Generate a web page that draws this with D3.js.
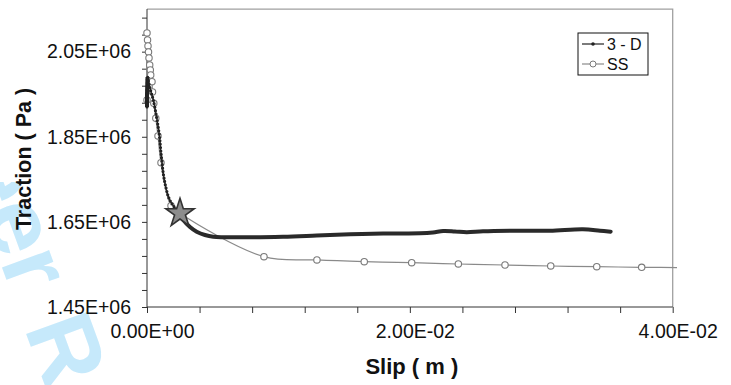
<!DOCTYPE html>
<html>
<head>
<meta charset="utf-8">
<title>Traction vs Slip</title>
<script src="https://cdn.jsdelivr.net/npm/d3@7/dist/d3.min.js"></script>
<style>
    body { margin: 0; background: #fff; }
    svg { display: block; font-family: "Liberation Sans", Arial, sans-serif; }
    .axis path, .axis line { stroke: #333; }
    .axis text { font-size: 19.5px; fill: #111; }
    .title { font-weight: bold; fill: #111; }
</style>
</head>
<body>
<script>
    // slip (m) and traction (Pa)
    var ssSlip = [0, 0, 0.00004, 0.000076, 0.000114, 0.000152, 0.000205, 0.000251, 0.000282,
        0.00038, 0.000419, 0.000517, 0.00067, 0.000837, 0.001065, 0.001826, 0.00251,
        0.0089, 0.01293, 0.01653, 0.02014, 0.02369, 0.02724, 0.03072, 0.03422, 0.03764, 0.04117];
    var ssTraction = [1.9365e6, 2.0939e6, 2.0775e6, 2.0634e6, 2.0493e6, 2.0352e6, 2.0187e6, 2.0070e6, 1.9952e6,
        1.9795e6, 1.9553e6, 1.9287e6, 1.8935e6, 1.8519e6, 1.7891e6, 1.6881e6, 1.6702e6,
        1.5682e6, 1.5605e6, 1.5565e6, 1.5541e6, 1.5511e6, 1.5487e6, 1.5464e6, 1.5447e6, 1.5433e6, 1.5424e6];

    var d3Slip = [0, 0, 0.000023, 0.000038, 0.000152, 0.000304, 0.000479, 0.000738, 0.000936,
        0.001065, 0.001256, 0.001446, 0.001636, 0.001902, 0.00226, 0.00276, 0.00327, 0.00378,
        0.00441, 0.00504, 0.00708, 0.01035, 0.01291, 0.01545, 0.01796, 0.02077, 0.02176,
        0.02254, 0.02343, 0.02433, 0.02557, 0.02813, 0.03066, 0.03317, 0.03447, 0.03528];
    var d3Traction = [1.9201e6, 1.9482e6, 1.9764e6, 1.9905e6, 1.9741e6, 1.9553e6, 1.9365e6, 1.8942e6, 1.8542e6,
        1.8119e6, 1.7602e6, 1.7297e6, 1.7085e6, 1.6921e6, 1.6780e6, 1.6545e6, 1.6380e6, 1.6270e6,
        1.6192e6, 1.6152e6, 1.6138e6, 1.6152e6, 1.6180e6, 1.6209e6, 1.6227e6, 1.6232e6, 1.6251e6,
        1.6285e6, 1.6274e6, 1.6256e6, 1.6279e6, 1.6293e6, 1.6293e6, 1.6326e6, 1.6293e6, 1.6270e6];

    var starPoint = [0.00251, 1.6702e6];

    var seriesNames = ["3 - D", "SS"];
    var xLabelValues = [0, 0.02, 0.04];
    var yLabelValues = [1.45e6, 1.65e6, 1.85e6, 2.05e6];

    var width = 731, height = 385,
        x = d3.scaleLinear().domain([0, 0.04]).range([147, 672.7]),
        y = d3.scaleLinear().domain([1.45e6, 2.15e6]).range([307, 9.1]);

    var ss = ssSlip.map(function(s, i){ return {x: s, y: ssTraction[i]}; });
    var three = d3Slip.map(function(s, i){ return {x: s, y: d3Traction[i]}; });

    var svg = d3.select("body").append("svg")
        .attr("width", width)
        .attr("height", height);

    var defs = svg.append("defs");

    renderWatermark(svg);
    renderFrame(svg);
    renderAxes(svg);
    renderSeries(svg);
    renderStar(svg);
    renderLegend(svg);

    function sci(v){
        // 2.05e+6 -> 2.05E+06
        var s = d3.format(".2e")(v).toUpperCase();
        return s.replace(/E([+-])(\d)$/, "E$10$2");
    }

    function renderWatermark(svg){
        // only the lower left corner of the page stamp shows through
        defs.append("clipPath")
            .attr("id", "wmclip")
            .append("rect")
            .attr("x", 0).attr("y", 182)
            .attr("width", 130).attr("height", height - 182);

        var g = svg.append("g")
            .attr("clip-path", "url(#wmclip)")
          .append("g")
            .attr("transform", "translate(24,328) rotate(70)")
            .style("font-size", "95px")
            .style("font-weight", "bold")
            .attr("fill", "#c6e9fb");
        g.append("text").attr("x", 0).text("Review");
        g.append("text").attr("x", -34).attr("text-anchor", "end").text("For Peer");
    }

    function renderFrame(svg){
        svg.append("path")
            .attr("d", "M" + x(0) + "," + y(2.15e6) + "H" + x(0.04) + "V" + y(1.45e6))
            .attr("fill", "none")
            .attr("stroke", "#a0a0a0")
            .attr("stroke-width", 1.3);
    }

    function renderAxes(svg){
        var yTicks = d3.range(0, 18).map(function(i){ return 1.45e6 + i * 40000; });
        var xTicks = d3.range(0, 11).map(function(i){ return i * 0.004; });

        var yAxis = d3.axisLeft(y)
            .tickValues(yTicks)
            .tickSize(5)
            .tickPadding(11)
            .tickFormat(function(d){
                return yLabelValues.some(function(v){ return Math.abs(v - d) < 1; }) ? sci(d) : "";
            });
        var xAxis = d3.axisBottom(x)
            .tickValues(xTicks)
            .tickSize(6)
            .tickPadding(11)
            .tickFormat(function(d){
                return xLabelValues.some(function(v){ return Math.abs(v - d) < 1e-9; }) ? sci(d) : "";
            });

        svg.append("g")
            .attr("class", "axis")
            .attr("transform", "translate(" + x(0) + ",0)")
            .call(yAxis)
            .call(function(g){ g.select(".domain").attr("d", "M0," + y(2.15e6) + "V" + y(1.45e6)); });

        svg.append("g")
            .attr("class", "axis")
            .attr("transform", "translate(0," + y(1.45e6) + ")")
            .call(xAxis)
            .call(function(g){
                g.select(".domain").attr("d", "M" + x(0) + ",0H" + x(0.04));
                g.selectAll("text").attr("dx", 5);
            });

        svg.append("text")
            .attr("class", "title")
            .style("font-size", "22px")
            .attr("x", x(0.02) + 2)
            .attr("y", 374)
            .attr("text-anchor", "middle")
            .text("Slip ( m )");

        svg.append("text")
            .attr("class", "title")
            .style("font-size", "21.5px")
            .attr("transform", "translate(31,159) rotate(-90)")
            .attr("text-anchor", "middle")
            .text("Traction ( Pa )");
    }

    function renderSeries(svg){
        defs.append("clipPath")
            .attr("id", "plotclip")
            .append("rect")
            .attr("x", 0).attr("y", 0)
            .attr("width", 677).attr("height", height);

        var ssLine = d3.line()
            .curve(d3.curveCatmullRom.alpha(0.5))
            .x(function(d){ return x(d.x); })
            .y(function(d){ return y(d.y); });

        var gs = svg.append("g").attr("clip-path", "url(#plotclip)");
        gs.append("path")
            .datum(ss)
            .attr("d", ssLine)
            .attr("fill", "none")
            .attr("stroke", "#8a8a8a")
            .attr("stroke-width", 1.2);
        gs.selectAll("circle")
            .data(ss)
          .enter().append("circle")
            .attr("cx", function(d){ return x(d.x); })
            .attr("cy", function(d){ return y(d.y); })
            .attr("r", 3.2)
            .attr("fill", "#fff")
            .attr("stroke", "#7a7a7a")
            .attr("stroke-width", 1.1);

        var line = d3.line()
            .curve(d3.curveCatmullRom.alpha(0.5))
            .x(function(d){ return x(d.x); })
            .y(function(d){ return y(d.y); });

        var start = three.filter(function(d){ return d.x < 0.0001; });
        var steep = three.filter(function(d){ return d.x <= 0.0028; });
        var flat = three.filter(function(d){ return d.x >= 0.00226; });

        // the first points sit on top of each other at zero slip
        svg.append("path")
            .datum(start)
            .attr("d", d3.line().x(function(d){ return x(d.x); }).y(function(d){ return y(d.y); }))
            .attr("fill", "none")
            .attr("stroke", "#222")
            .attr("stroke-width", 4);
        svg.append("path")
            .datum(steep)
            .attr("d", line)
            .attr("fill", "none")
            .attr("stroke", "#222")
            .attr("stroke-width", 1.2);
        svg.append("path")
            .datum(steep)
            .attr("d", line)
            .attr("fill", "none")
            .attr("stroke", "#222")
            .attr("stroke-width", 3.2)
            .attr("stroke-linecap", "round")
            .attr("stroke-dasharray", "0 3.4");
        svg.append("path")
            .datum(flat)
            .attr("d", line)
            .attr("fill", "none")
            .attr("stroke", "#2a2a2a")
            .attr("stroke-width", 4)
            .attr("stroke-linecap", "round");
    }

    function renderStar(svg){
        svg.append("path")
            .attr("d", d3.symbol().type(d3.symbolStar).size(250)())
            .attr("transform", "translate(" + x(starPoint[0]) + "," + y(starPoint[1]) + ")")
            .attr("fill", "#8c8c8c")
            .attr("stroke", "#333")
            .attr("stroke-width", 1.6);
    }

    function renderLegend(svg){
        var lg = svg.append("g").attr("transform", "translate(578,33)");
        lg.append("rect")
            .attr("width", 70).attr("height", 42)
            .attr("fill", "#fff")
            .attr("stroke", "#111")
            .attr("stroke-width", 1);

        var rows = lg.selectAll("g.item")
            .data(seriesNames)
          .enter().append("g")
            .attr("class", "item")
            .attr("transform", function(d, i){ return "translate(0," + (11 + i * 20) + ")"; });

        rows.append("line")
            .attr("x1", 4).attr("x2", 26)
            .attr("stroke", function(d, i){ return i === 0 ? "#222" : "#8a8a8a"; })
            .attr("stroke-width", 1.2);
        rows.append("circle")
            .attr("cx", 15)
            .attr("r", function(d, i){ return i === 0 ? 1.8 : 3; })
            .attr("fill", function(d, i){ return i === 0 ? "#222" : "#fff"; })
            .attr("stroke", function(d, i){ return i === 0 ? "none" : "#7a7a7a"; });
        rows.append("text")
            .attr("x", 29)
            .attr("dy", "0.36em")
            .style("font-size", "16px")
            .attr("fill", "#111")
            .text(function(d){ return d; });
    }
</script>
</body>
</html>
